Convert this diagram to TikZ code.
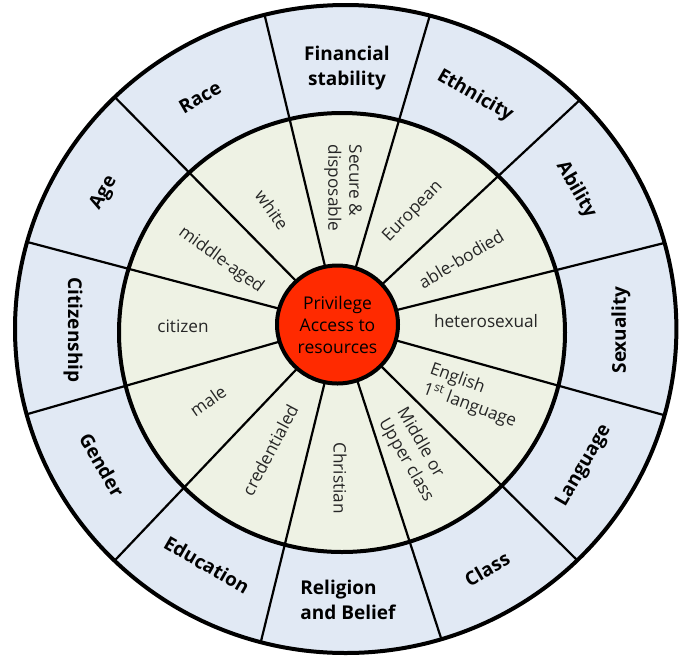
\documentclass[tikz,border=0pt]{standalone}
\usepackage{fontspec}
\setmainfont{Open Sans}
\usetikzlibrary{calc}
\definecolor{bluefill}{HTML}{E1E9F4}
\definecolor{greenfill}{HTML}{EEF2E4}
\definecolor{redfill}{HTML}{FF2A00}
\begin{document}
\begin{tikzpicture}[x=1pt,y=-1pt,
  spoke/.style={line width=2.2pt, draw=black},
  ringline/.style={line width=4pt, draw=black},
  outerlab/.style={font=\fontsize{19}{24.5}\selectfont\bfseries, text=black, align=center, inner sep=0pt},
  innerlab/.style={font=\fontsize{17.2}{21}\selectfont, text=black!85, inner sep=0pt},
  centerlab/.style={font=\fontsize{17.5}{22}\selectfont, text=black, align=center, inner sep=0pt}]
\useasboundingbox (0,0) rectangle (686,657);
% rings
\fill[bluefill] (345.7,329) ellipse [x radius=330.7pt, y radius=324pt];
\fill[greenfill] (342,332.5) ellipse [x radius=223pt, y radius=219.5pt];
\coordinate (C) at (339,324.5);
\begin{scope}
  \clip (345.7,329) ellipse [x radius=330.7pt, y radius=324pt];
  \foreach \px/\py in {663/243.3, 578/101.7, 429/18.3, 265/16.7, 116.7/99, 30/242.7,
                       26.7/414.3, 113.3/562, 260/645.3, 442.3/642, 579/562, 664.7/415.3}
    \draw[spoke] (C) -- ($(C)!1.05!(\px,\py)$);
\end{scope}
\path[ringline, fill=redfill] (337.5,324.5) ellipse [x radius=60.5pt, y radius=59pt];
\draw[ringline] (345.7,329) ellipse [x radius=330.7pt, y radius=324pt];
\draw[ringline] (342,332.5) ellipse [x radius=223pt, y radius=219.5pt];
% centre
\node[centerlab] (ctr) at (337.5,325) {Privilege\\Access to\\resources};
% outer labels
\node[outerlab] (fin) at (347,68) {Financial\\stability};
\node[outerlab, align=left] (rel) at (348,600) {Religion\\and Belief};
\node[outerlab, rotate=30] (race) at (200,97) {Race};
\node[outerlab, rotate=60] (age) at (104,193) {Age};
\node[outerlab, rotate=-90] (cit) at (73,330) {Citizenship};
\node[outerlab, rotate=-60] (gen) at (102,465) {Gender};
\node[outerlab, rotate=-30] (edu) at (207,565) {Education};
\node[outerlab, rotate=30] (cla) at (487,569) {Class};
\node[outerlab, rotate=60] (lan) at (584,466) {Language};
\node[outerlab, rotate=90] (sex) at (621,330) {Sexuality};
\node[outerlab, rotate=-60] (abi) at (576,190) {Ability};
\node[outerlab, rotate=-30] (eth) at (475,96) {Ethnicity};
% inner labels
\node[innerlab, rotate=-90, align=left] (sec) at (343,188) {Secure \&\\disposable};
\node[innerlab, rotate=46] (eur) at (413,212) {European};
\node[innerlab, rotate=31] (abl) at (461,259) {able-bodied};
\node[innerlab] (het) at (486,321) {heterosexual};
\node[innerlab, rotate=-20, align=left] (eng) at (473,396) {English\\1\textsuperscript{st} language};
\node[innerlab, rotate=-60, align=left] (mid) at (415,455) {Middle or\\Upper class};
\node[innerlab, rotate=-90] (chr) at (340,478) {Christian};
\node[innerlab, rotate=62] (cre) at (270,450) {credentialed};
\node[innerlab, rotate=35] (mal) at (208,401) {male};
\node[innerlab] (citz) at (183,326) {citizen};
\node[innerlab, rotate=-36] (mag) at (221,260) {middle-aged};
\node[innerlab, rotate=-55] (whi) at (272,210) {white};
\end{tikzpicture}
\end{document}
